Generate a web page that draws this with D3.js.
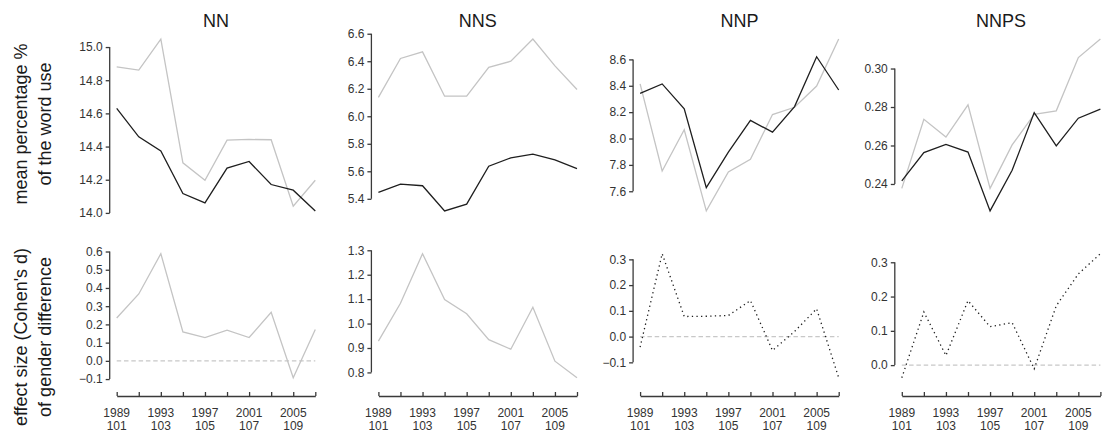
<!DOCTYPE html>
<html><head><meta charset="utf-8">
<script src="https://cdn.jsdelivr.net/npm/d3@7"></script>
<style>
body{margin:0;background:#fff}
svg{display:block}
text{font-family:"Liberation Sans",Arial,Helvetica,sans-serif}
</style>
</head><body><svg id="c" width="1102" height="433"></svg>
<script>
// ---------- data ----------
const years = [1989,1991,1993,1995,1997,1999,2001,2003,2005,2007];
const xLabelYears = [1989,1993,1997,2001,2005];
const xLabelLine1 = ["1989","1993","1997","2001","2005"];
const xLabelLine2 = ["101","103","105","107","109"];
const titles = ["NN","NNS","NNP","NNPS"];

const nnDark  = [14.630,14.459,14.374,14.117,14.060,14.270,14.310,14.171,14.137,14.012];
const nnLight = [14.881,14.861,15.048,14.302,14.197,14.439,14.443,14.441,14.040,14.197];
const nnEffect = [0.235,0.367,0.588,0.159,0.128,0.168,0.128,0.266,-0.093,0.172];

const nnsDark  = [5.446,5.507,5.495,5.312,5.361,5.637,5.698,5.724,5.683,5.620];
const nnsLight = [6.137,6.420,6.468,6.146,6.146,6.356,6.400,6.561,6.366,6.195];
const nnsEffect = [0.928,1.083,1.286,1.098,1.040,0.934,0.895,1.067,0.846,0.778];

const nnpDark  = [8.343,8.414,8.225,7.628,7.897,8.137,8.048,8.242,8.620,8.368];
const nnpLight = [8.414,7.754,8.066,7.451,7.746,7.842,8.182,8.237,8.398,8.754];
const nnpEffect = [-0.041,0.322,0.078,0.079,0.082,0.140,-0.054,0.020,0.108,-0.160];

const nnpsDark  = [0.2416,0.2563,0.2606,0.2566,0.2260,0.2471,0.2771,0.2598,0.2742,0.2789];
const nnpsLight = [0.2377,0.2736,0.2644,0.2811,0.2377,0.2603,0.2762,0.2780,0.3057,0.3153];
const nnpsEffect = [-0.037,0.155,0.028,0.188,0.112,0.124,-0.011,0.173,0.266,0.325];

const topTicks = [
  [14.0,14.2,14.4,14.6,14.8,15.0],
  [5.4,5.6,5.8,6.0,6.2,6.4,6.6],
  [7.6,7.8,8.0,8.2,8.4,8.6],
  [0.24,0.26,0.28,0.30]
];
const topTickFormats = [".1f",".1f",".1f",".2f"];
const bottomTicks = [
  [-0.1,0.0,0.1,0.2,0.3,0.4,0.5,0.6],
  [0.8,0.9,1.0,1.1,1.2,1.3],
  [-0.1,0.0,0.1,0.2,0.3],
  [0.0,0.1,0.2,0.3]
];
const effectStyles = ["light","light","dotted","dotted"];
const showZeroLine = [true,false,true,true];
const yLabelTop = ["mean percentage %","of the word use"];
const yLabelBottom = ["effect size (Cohen's d)","of gender difference"];

const darkSeries = [nnDark,nnsDark,nnpDark,nnpsDark];
const lightSeries = [nnLight,nnsLight,nnpLight,nnpsLight];
const effectSeries = [nnEffect,nnsEffect,nnpEffect,nnpsEffect];

// ---------- layout ----------
const svg = d3.select("#c");
const panelStart = 116.7, panelStep = 261.7, panelWidth = 198.6;
const spineOffset = 7;
const topRange = [219.5, 30.5];
const bottomRange = [384, 247.5];
const xAxisY = 396;
const DARK = "#1e1e1e", LIGHT = "#c4c4c4", AXIS = "#3a3a3a", TICKTXT = "#333";
const TICKFONT = "12px";

function paddedDomain(values) {
  const [lo, hi] = d3.extent(values);
  const r = hi - lo;
  return [lo - 0.05 * r, hi + 0.05 * r];
}

function drawYAxis(g, y, ticks, fmt, x0) {
  const ax = g.append("g").attr("transform", `translate(${x0 - spineOffset},0)`)
    .call(d3.axisLeft(y).tickValues(ticks).tickSize(4).tickPadding(3)
      .tickFormat(d3.format(fmt)));
  ax.select(".domain").remove();
  ax.selectAll(".tick line").attr("stroke", AXIS).attr("stroke-width", 1.3);
  ax.selectAll(".tick text").attr("fill", TICKTXT).style("font-size", TICKFONT);
  ax.append("line")
    .attr("x1", 0).attr("x2", 0)
    .attr("y1", y(ticks[0])).attr("y2", y(ticks[ticks.length - 1]))
    .attr("stroke", AXIS).attr("stroke-width", 1.3);
}

titles.forEach((title, i) => {
  const x0 = panelStart + i * panelStep;
  const x = d3.scaleLinear().domain([years[0], years[years.length - 1]]).range([x0, x0 + panelWidth]);
  const g = svg.append("g");

  // title
  g.append("text").attr("x", (x0 + x0 + panelWidth) / 2).attr("y", 26.7)
    .attr("text-anchor", "middle").attr("fill", "#1a1a1a")
    .style("font-size", "18px").text(title);

  // ---- top panel ----
  const yT = d3.scaleLinear()
    .domain(paddedDomain(darkSeries[i].concat(lightSeries[i])))
    .range(topRange);
  drawYAxis(g, yT, topTicks[i], topTickFormats[i], x0);
  const lineT = d3.line().x((d, k) => x(years[k])).y(d => yT(d));
  g.append("path").datum(lightSeries[i]).attr("d", lineT)
    .attr("fill", "none").attr("stroke", LIGHT).attr("stroke-width", 1.3);
  g.append("path").datum(darkSeries[i]).attr("d", lineT)
    .attr("fill", "none").attr("stroke", DARK).attr("stroke-width", 1.3);

  // ---- bottom panel ----
  const yB = d3.scaleLinear()
    .domain(paddedDomain(showZeroLine[i] ? effectSeries[i].concat([0]) : effectSeries[i]))
    .range(bottomRange);
  drawYAxis(g, yB, bottomTicks[i], ".1f", x0);
  if (showZeroLine[i]) {
    g.append("line")
      .attr("x1", x(years[0])).attr("x2", x(years[years.length - 1]))
      .attr("y1", yB(0)).attr("y2", yB(0))
      .attr("stroke", "#c8c8c8").attr("stroke-width", 1.2).attr("stroke-dasharray", "4.5,2.8");
  }
  const lineB = d3.line().x((d, k) => x(years[k])).y(d => yB(d));
  const p = g.append("path").datum(effectSeries[i]).attr("d", lineB).attr("fill", "none");
  if (effectStyles[i] === "light") {
    p.attr("stroke", LIGHT).attr("stroke-width", 1.3);
  } else {
    p.attr("stroke", DARK).attr("stroke-width", 1.3).attr("stroke-dasharray", "1.3,3.3");
  }

  // x axis
  const xa = g.append("g").attr("transform", `translate(0,${xAxisY})`)
    .call(d3.axisBottom(x).tickValues(years).tickSize(-4).tickSizeOuter(0).tickFormat(() => ""));
  xa.select(".domain").attr("stroke", AXIS).attr("stroke-width", 1.3);
  xa.selectAll(".tick line").attr("stroke", AXIS).attr("stroke-width", 1.3);
  xa.selectAll(".tick text").remove();
  xLabelYears.forEach((yr, k) => {
    const t = g.append("text").attr("text-anchor", "middle").attr("fill", TICKTXT)
      .style("font-size", TICKFONT);
    t.append("tspan").attr("x", x(yr)).attr("y", 416.5).text(xLabelLine1[k]);
    t.append("tspan").attr("x", x(yr)).attr("y", 429.5).text(xLabelLine2[k]);
  });
});

// y-axis labels
function yLabel(lines, cy) {
  const xs = [27, 51];
  lines.forEach((s, k) => {
    svg.append("text")
      .attr("transform", `translate(${xs[k]},${cy}) rotate(-90)`)
      .attr("text-anchor", "middle").attr("fill", "#1a1a1a")
      .style("font-size", "18px").text(s);
  });
}
yLabel(yLabelTop, 124);
yLabel(yLabelBottom, 337);
</script>
</body></html>
